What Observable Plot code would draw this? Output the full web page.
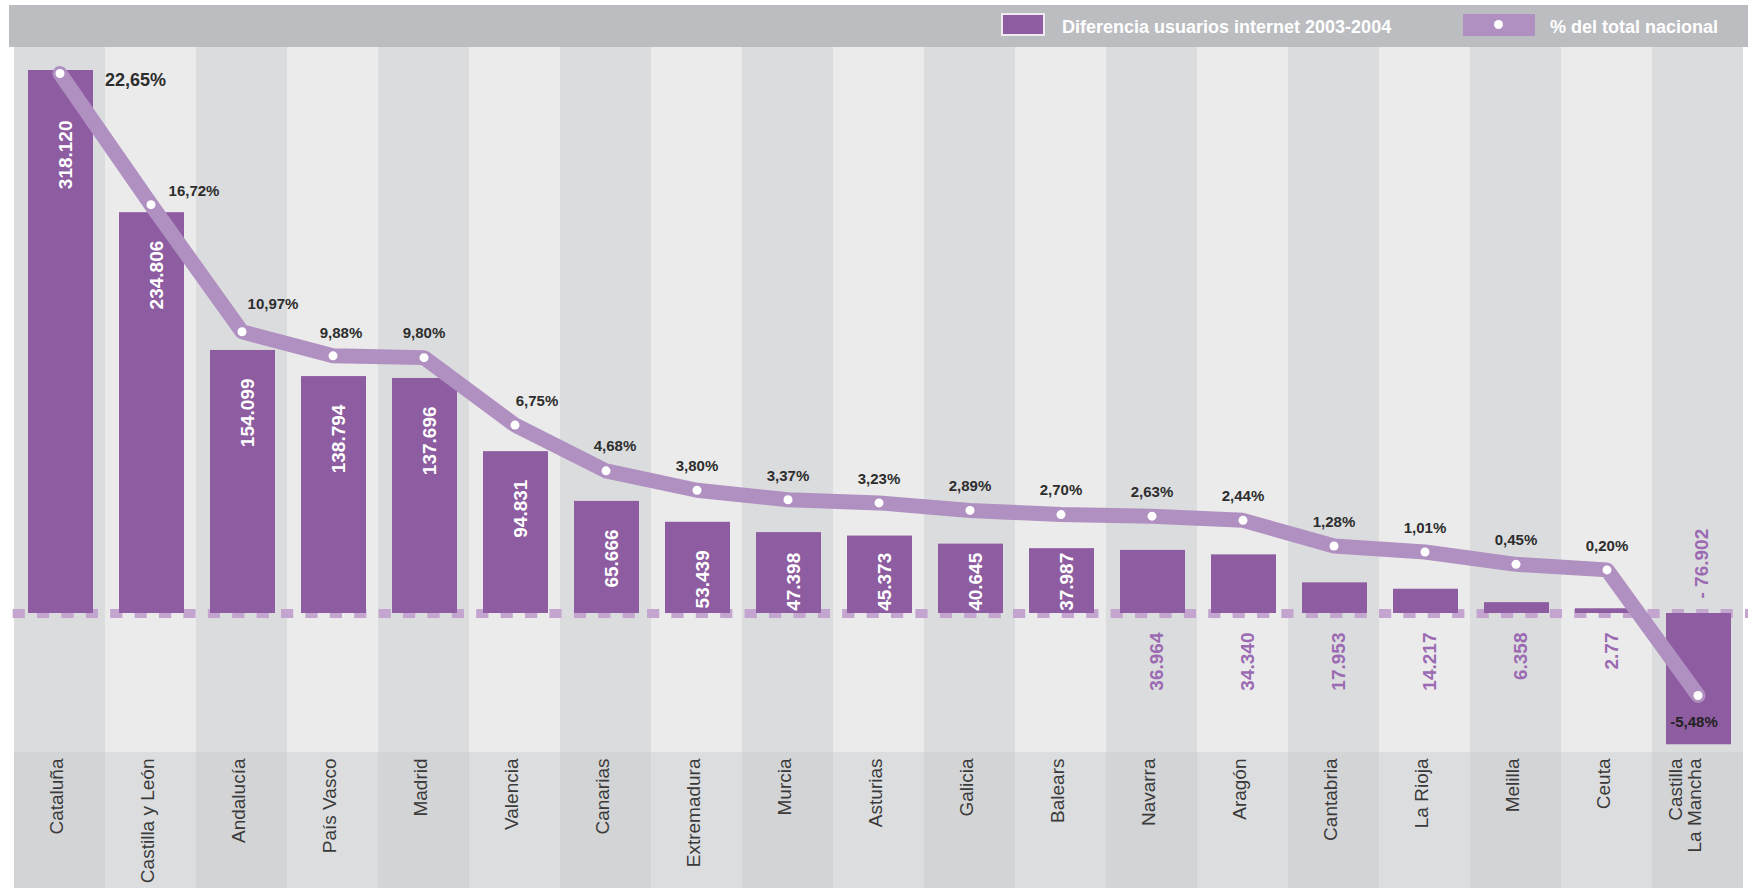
<!DOCTYPE html>
<html><head><meta charset="utf-8">
<script src="https://cdn.jsdelivr.net/npm/d3@7"></script>
<script src="https://cdn.jsdelivr.net/npm/@observablehq/plot@0.6"></script>
<style>
html,body{margin:0;padding:0;background:#fff;overflow:hidden;}
#wrap{position:relative;width:1748px;height:888px;font-family:"Liberation Sans",Arial,Helvetica,sans-serif;}
#header{position:absolute;left:9px;top:5px;width:1739px;height:42px;background:#bcbdc1;}
.lg{position:absolute;color:#fff;font-weight:bold;font-size:18px;line-height:20px;top:12px;white-space:nowrap;}
.sw1{position:absolute;left:992px;top:8px;width:40px;height:19px;background:#8e5ca0;border:2px solid #eeeaf0;}
.sw2{position:absolute;left:1454px;top:9px;width:72px;height:22px;background:#b08fc1;}
.sw2 i{position:absolute;left:31px;top:6px;width:9px;height:9px;border-radius:50%;background:#fff;}
#chart{position:absolute;left:0;top:47px;}
</style>
</head>
<body>
<div id="wrap">
  <div id="header">
    <div class="sw1"></div>
    <div class="lg" style="left:1053px">Diferencia usuarios internet 2003-2004</div>
    <div class="sw2"><i></i></div>
    <div class="lg" style="left:1541px">% del total nacional</div>
  </div>
  <div id="chart"></div>
</div>
<script>
// ---- data ----
const regions = ["Cataluña","Castilla y León","Andalucía","País Vasco","Madrid","Valencia","Canarias","Extremadura","Murcia","Asturias","Galicia","Balears","Navarra","Aragón","Cantabria","La Rioja","Melilla","Ceuta","Castilla\nLa Mancha"];
const usersDiff = [318120,234806,154099,138794,137696,94831,65666,53439,47398,45373,40645,37987,36964,34340,17953,14217,6358,2770,-76902];
const usersDiffText = ["318.120","234.806","154.099","138.794","137.696","94.831","65.666","53.439","47.398","45.373","40.645","37.987","36.964","34.340","17.953","14.217","6.358","2.77","- 76.902"];
const pctNational = [22.65,16.72,10.97,9.88,9.80,6.75,4.68,3.80,3.37,3.23,2.89,2.70,2.63,2.44,1.28,1.01,0.45,0.20,-5.48];

// scale extents (left axis) and secondary-axis calibration for the % line
const yDomain = [-81434, 331595];
const pctOffset = 22966, pctUnit = 12953;

const data = regions.map((r, i) => ({
  i, region: r, value: usersDiff[i], text: usersDiffText[i], pct: pctNational[i],
  pctText: pctNational[i].toFixed(2).replace(".", ",") + "%"
}));
const pctY = d => pctOffset + pctUnit * d.pct;

const pctLabel = (idx, opts) => Plot.text(data.filter(d => idx.includes(d.i)), {
  x: "region", y: pctY, text: "pctText", fill: "#2e2e2e", fontSize: 15, fontWeight: "bold", ...opts
});
const insideLabel = (filter, opts) => Plot.text(data.filter(filter), {
  x: "region", y: d => Math.max(d.value, 52000), text: "text", rotate: -90, textAnchor: "end",
  dx: 6, fill: "white", fontSize: 19, fontWeight: "bold", ...opts
});

const chart = Plot.plot({
  width: 1748, height: 841,
  marginTop: 0, marginBottom: 136, marginLeft: 9, marginRight: 0,
  style: {fontFamily: "'Liberation Sans', Arial, Helvetica, sans-serif", background: "transparent"},
  x: {domain: regions, padding: 0, axis: null},
  y: {domain: yDomain, axis: null},
  color: {type: "identity"},
  marks: [
    Plot.cell(data, {x: "region", fill: d => d.i % 2 ? "#eaebea" : "#dbdcde"}),
    Plot.barY(data, {x: "region", y1: yDomain[0], y2: yDomain[0], insetBottom: -136, fill: d => d.i % 2 ? "#dcdddf" : "#d3d4d6"}),
    Plot.ruleY([0], {stroke: "#c3a5d0", strokeWidth: 9, strokeDasharray: "12.2,12.2", strokeDashoffset: 20.8}),
    Plot.barY(data, {x: "region", y: "value", fill: "#8e5ca0", insetLeft: 14, insetRight: 12}),
    Plot.line(data, {x: "region", y: pctY, stroke: "#b08fc1", strokeWidth: 15, strokeLinejoin: "round", strokeLinecap: "round"}),
    Plot.dot(data, {x: "region", y: pctY, r: 4.5, fill: "white"}),
    // values inside bars
    insideLabel(d => d.i === 0, {dy: 50}),
    insideLabel(d => d.i > 0 && d.value > 37500, {dy: 28}),
    // small positive values below zero line
    Plot.text(data.filter(d => d.value > 0 && d.value <= 37500), {x: "region", y: 0, text: "text", rotate: -90, textAnchor: "end", dy: 19, dx: 5, fill: "#9b6ab2", fontSize: 19, fontWeight: "bold"}),
    // negative value above zero line
    Plot.text(data.filter(d => d.value < 0), {x: "region", y: 0, text: "text", rotate: -90, textAnchor: "start", dy: -15, dx: 4, fill: "#9b6ab2", fontSize: 19, fontWeight: "bold"}),
    // percent labels
    pctLabel([0], {textAnchor: "start", dx: 45, dy: 7, fontSize: 18}),
    pctLabel([1], {dx: 43, dy: -13}),
    pctLabel([2], {dx: 31, dy: -28}),
    pctLabel([3], {dx: 8, dy: -23}),
    pctLabel([5], {dx: 22, dy: -24}),
    pctLabel([6], {dx: 9, dy: -25}),
    pctLabel([4,7,8,9,10,11,12,13,14,15,16,17], {dx: 0, dy: -24}),
    pctLabel([18], {dx: -4, dy: 27, fill: "#222"}),
    // category labels
    Plot.text(data, {x: "region", frameAnchor: "bottom", text: "region", rotate: -90, textAnchor: "end", dy: 6, dx: 3, fill: "#3a3a3a", fontSize: 19})
  ]
});
document.getElementById("chart").appendChild(chart);
</script>
</body></html>
